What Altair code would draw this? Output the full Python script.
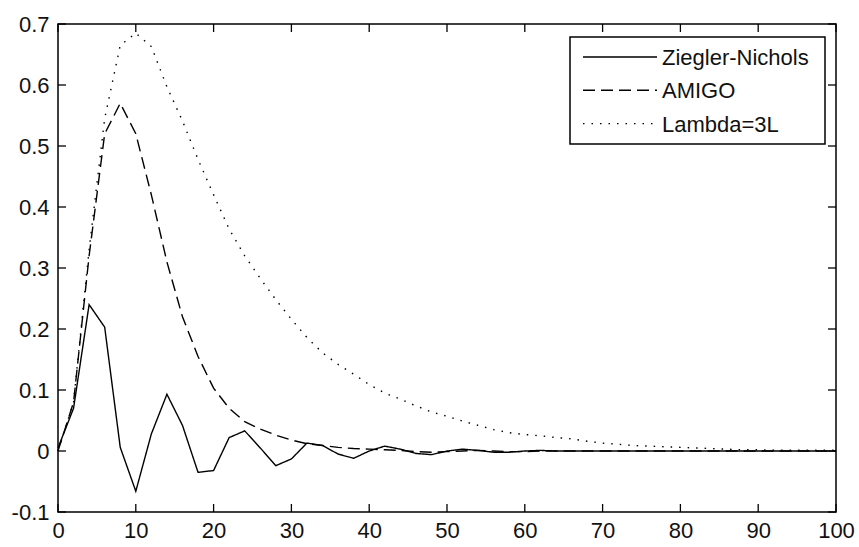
import altair as alt
import pandas as pd

# ---- data ----
t = list(range(0, 101, 2))

ziegler_nichols = [0.005, 0.07, 0.24, 0.203, 0.006, -0.066, 0.028, 0.093, 0.042, -0.035,
                   -0.032, 0.022, 0.033, 0.005, -0.024, -0.013, 0.013, 0.009, -0.005, -0.012,
                   0.0, 0.008, 0.003, -0.004, -0.006, 0.0, 0.003, 0.001, -0.002, -0.002,
                   0.0, 0.001, 0.0, 0.0, 0.0, 0.0, 0.0, 0.0, 0.0, 0.0,
                   0.0, 0.0, 0.0, 0.0, 0.0, 0.0, 0.0, 0.0, 0.0, 0.0, 0.0]

amigo = [0.0, 0.08, 0.32, 0.52, 0.57, 0.52, 0.42, 0.31, 0.22, 0.155,
         0.103, 0.07, 0.048, 0.036, 0.026, 0.018, 0.012, 0.009, 0.006, 0.004,
         0.003, 0.002, 0.001, -0.001, -0.002, -0.001, 0.0, 0.001, 0.0, -0.001,
         -0.001, 0.0, 0.0, 0.0, 0.0, 0.0, 0.0, 0.0, 0.0, 0.0,
         0.0, 0.0, 0.0, 0.0, 0.0, 0.0, 0.0, 0.0, 0.0, 0.0, 0.0]

lambda_3l = [0.0, 0.08, 0.33, 0.545, 0.665, 0.685, 0.663, 0.597, 0.541, 0.478,
             0.42, 0.364, 0.32, 0.283, 0.248, 0.216, 0.186, 0.161, 0.142, 0.126,
             0.109, 0.095, 0.085, 0.074, 0.064, 0.057, 0.049, 0.042, 0.035, 0.030,
             0.027, 0.025, 0.022, 0.02, 0.016, 0.013, 0.011, 0.009, 0.008, 0.007,
             0.006, 0.005, 0.004, 0.003, 0.002, 0.002, 0.0015, 0.0015, 0.0015, 0.0015, 0.0015]

series_names = ["Ziegler-Nichols", "AMIGO", "Lambda=3L"]
x_ticks = [0, 10, 20, 30, 40, 50, 60, 70, 80, 90, 100]
y_ticks = [-0.1, 0.0, 0.1, 0.2, 0.3, 0.4, 0.5, 0.6, 0.7]

# ---- styles ----
FONT = "Liberation Sans"
W, H = 778, 488
dashes = [[1, 0], [12, 6], [1.5, 7]]
TICK = 8

rows = []
for name, vals in zip(series_names, [ziegler_nichols, amigo, lambda_3l]):
    for x, y in zip(t, vals):
        rows.append({"t": x, "y": y, "series": name})
df = pd.DataFrame(rows)

xscale = alt.Scale(domain=[0, 100], nice=False, zero=False)
yscale = alt.Scale(domain=[-0.1, 0.7], nice=False, zero=False)

x_axis = alt.Axis(values=x_ticks, format="d", ticks=False, domain=False, grid=False,
                  labelFont=FONT, labelFontSize=22, labelColor="#111",
                  labelPadding=8, labelFlush=False)
y_axis = alt.Axis(values=y_ticks, ticks=False, domain=False, grid=False,
                  labelFont=FONT, labelFontSize=22, labelColor="#111",
                  labelPadding=9, labelFlush=False,
                  labelExpr="abs(datum.value) < 1e-9 ? '0' : (datum.value < 0 ? '-' + format(-datum.value, '.1f') : format(datum.value, '.1f'))")

lines = alt.Chart(df).mark_line(color="black", strokeWidth=1.4).encode(
    x=alt.X("t:Q", scale=xscale, title=None, axis=x_axis),
    y=alt.Y("y:Q", scale=yscale, title=None, axis=y_axis),
    strokeDash=alt.StrokeDash("series:N", scale=alt.Scale(domain=series_names, range=dashes), legend=None),
    detail="series:N",
)

xt = pd.DataFrame({"v": x_ticks})
yt = pd.DataFrame({"v": y_ticks})

tick_layers = [
    alt.Chart(xt).mark_rule(color="black", strokeWidth=1.3).encode(
        x=alt.X("v:Q", scale=xscale, title=None, axis=x_axis), y=alt.value(H), y2=alt.value(H - TICK)),
    alt.Chart(xt).mark_rule(color="black", strokeWidth=1.3).encode(
        x=alt.X("v:Q", scale=xscale, title=None, axis=x_axis), y=alt.value(0), y2=alt.value(TICK)),
    alt.Chart(yt).mark_rule(color="black", strokeWidth=1.3).encode(
        y=alt.Y("v:Q", scale=yscale, title=None, axis=y_axis), x=alt.value(0), x2=alt.value(TICK)),
    alt.Chart(yt).mark_rule(color="black", strokeWidth=1.3).encode(
        y=alt.Y("v:Q", scale=yscale, title=None, axis=y_axis), x=alt.value(W), x2=alt.value(W - TICK)),
]

# ---- legend ----
LX0, LX1, LY0, LY1 = 512, 767, 13, 120
legend_box = alt.Chart(pd.DataFrame({"a": [0]})).mark_rect(
    fill="white", stroke="black", strokeWidth=1.5).encode(
    x=alt.value(LX0), x2=alt.value(LX1), y=alt.value(LY0), y2=alt.value(LY1))

legend_layers = [legend_box]
for i, name in enumerate(series_names):
    yy = 33 + i * 33.3
    legend_layers.append(
        alt.Chart(pd.DataFrame({"name": [name]})).mark_rule(
            color="black", strokeWidth=1.4, strokeDash=dashes[i]).encode(
            x=alt.value(525), x2=alt.value(599), y=alt.value(yy)))
    legend_layers.append(
        alt.Chart(pd.DataFrame({"name": [name]})).mark_text(
            align="left", baseline="middle", font=FONT, fontSize=22, color="#111").encode(
            text="name:N", x=alt.value(604), y=alt.value(yy + 1)))

chart = alt.layer(lines, *tick_layers, *legend_layers).properties(
    width=W, height=H,
    autosize=alt.AutoSizeParams(type="none"),
    padding={"left": 58, "top": 24, "right": 23, "bottom": 35},
    background="white",
).configure_view(stroke="black", strokeWidth=1.5)

chart.save("out.html", embed_options={"renderer": "svg", "actions": False})
